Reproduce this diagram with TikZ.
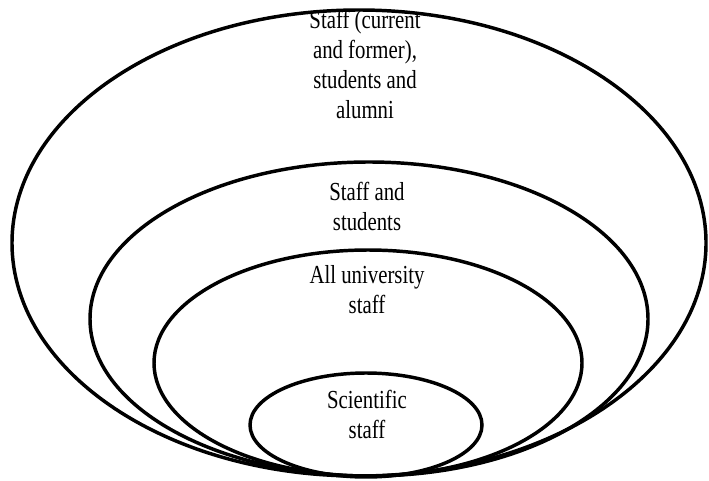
\documentclass[tikz,border=0pt]{standalone}
\usepackage{fontspec}
\setmainfont[FakeStretch=0.8]{Liberation Serif}
\tikzset{ring/.style={line width=2.6pt},
lbl/.style={align=center,inner sep=0pt,font=\fontsize{19.5}{22.5}\selectfont}}
\begin{document}
\begin{tikzpicture}[x=0.75pt,y=0.75pt]
\useasboundingbox (0,0) rectangle (709,480);
\draw[ring] (359,237) ellipse [x radius=347, y radius=233];
\draw[ring] (369,161) ellipse [x radius=279, y radius=157];
\draw[ring] (368,117) ellipse [x radius=214, y radius=113];
\draw[ring] (366,55) ellipse [x radius=116, y radius=52];
\node[lbl] (alumni) at (365,416) {Staff (current\\and former),\\students and\\alumni};
\node[lbl] (students) at (367,274) {Staff and\\students};
\node[lbl] (allstaff) at (367,190) {All university\\staff};
\node[lbl] (scientific) at (367,66) {Scientific\\staff};
\end{tikzpicture}
\end{document}
